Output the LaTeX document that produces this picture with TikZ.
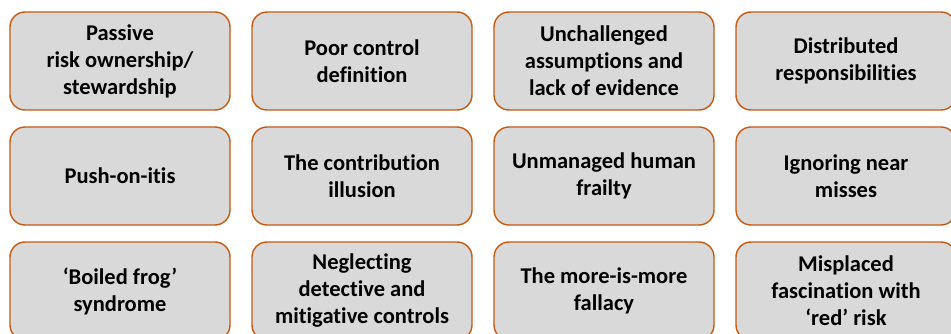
\documentclass[tikz,border=0pt]{standalone}
\usepackage{fontspec}
\setmainfont[Ligatures=NoCommon]{Carlito}
\definecolor{boxfill}{HTML}{D9D9D9}
\definecolor{boxline}{HTML}{C55A11}
\tikzset{
  trap/.style={draw=boxline, fill=boxfill, line width=1.4pt, rounded corners=15pt,
    minimum width=220pt, minimum height=98pt, inner sep=0pt, align=center,
    font=\fontsize{22.5}{27}\selectfont\bfseries, text=black}
}

\begin{document}
\begin{tikzpicture}[x=1pt, y=1pt]
   \useasboundingbox (0,0) rectangle (951,-334);

   % first row
   \node[trap] (passive) at (120,-61) {Passive\\risk ownership/\\stewardship};
   \node[trap] (poorctl) at (362,-61) {Poor control\\definition};
   \node[trap] (unchall) at (604,-61) {Unchallenged\\assumptions and\\lack of evidence};
   \node[trap] (distrib) at (846,-61) {Distributed\\responsibilities};

   % second row
   \node[trap] (pushon)  at (120,-176) {Push-on-itis};
   \node[trap] (contrib) at (362,-176) {The contribution\\illusion};
   \node[trap] (frailty) at (604,-176) {Unmanaged human\\frailty};
   \node[trap] (nearmiss) at (846,-176) {Ignoring near\\misses};

   % third row
   \node[trap] (boiled)  at (120,-291) {‘Boiled frog’\\syndrome};
   \node[trap] (neglect) at (362,-291) {Neglecting\\detective and\\mitigative controls};
   \node[trap] (moremore) at (604,-291) {The more-is-more\\fallacy};
   \node[trap] (redrisk) at (846,-291) {Misplaced\\fascination with\\‘red’ risk};
\end{tikzpicture}
\end{document}
